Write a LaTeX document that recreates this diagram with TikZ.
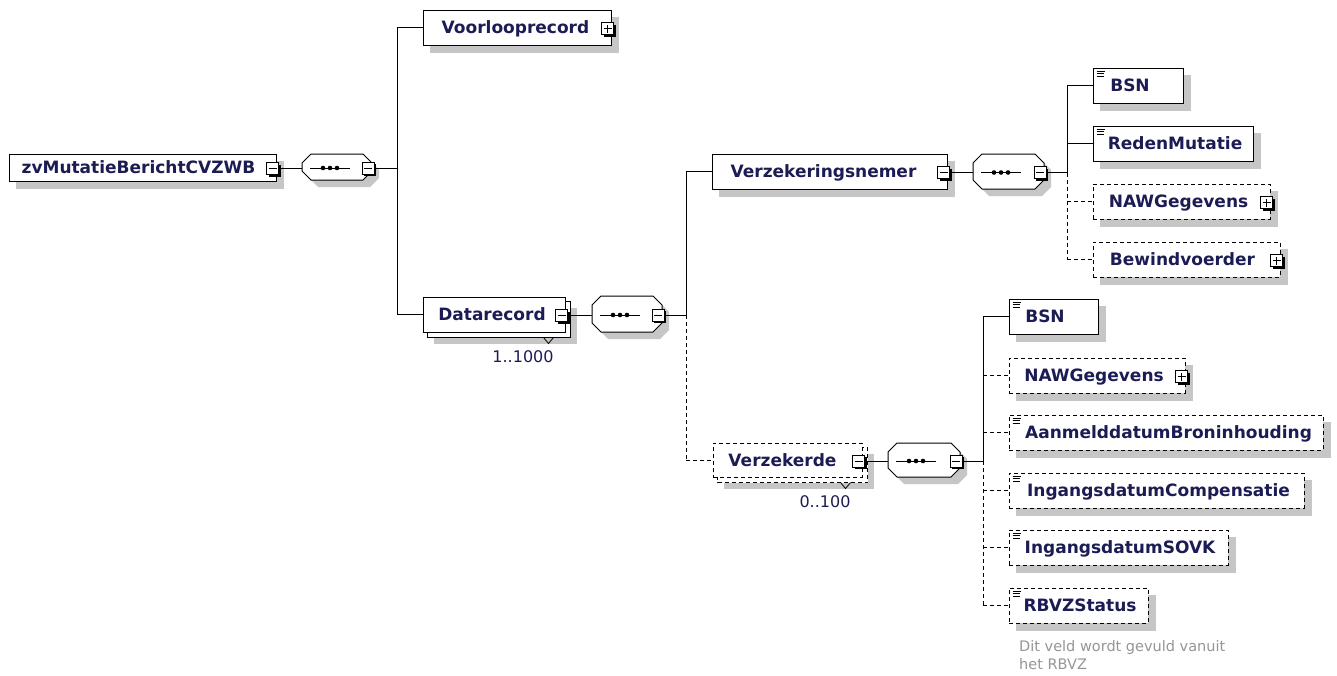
\documentclass[tikz,border=0pt]{standalone}
\usepackage{fontspec}
\setmainfont{DejaVu Sans}
\usetikzlibrary{calc}
\definecolor{navy}{RGB}{28,28,84}
\definecolor{shgray}{RGB}{198,198,198}
\definecolor{annogray}{RGB}{150,150,150}
\pgfdeclarelayer{paper}
\pgfdeclarelayer{shad}
\pgfdeclarelayer{back}
\pgfsetlayers{paper,shad,back,main}
\tikzset{
  conn/.style={line width=1pt},
  opt/.style={dash pattern=on 4pt off 3pt},
  ebox/.style={draw, fill=white, line width=1pt, inner sep=0pt},
  etxt/.style={font=\bfseries\fontsize{17}{19}\selectfont, text=navy, inner sep=0pt, text height=12.4pt, text depth=0pt},
  occ/.style={font=\fontsize{16}{18}\selectfont, text=navy, inner sep=0pt},
  anno/.style={font=\fontsize{14.5}{18}\selectfont, text=annogray, inner sep=0pt, anchor=base west},
  pmsq/.style={draw, fill=white, line width=1pt, minimum size=12pt, inner sep=0pt},
}
% #1 name, #2 x1, #3 y1, #4 x2, #5 y2, #6 text, #7 text centre x, #8 style, #9 shadow offset
\newcommand\mkelem[9]{%
  \node[ebox,#8, minimum width={#4-#2}, minimum height={#5-#3}] (#1) at ({(#2+#4)/2},{(#3+#5)/2}) {};
  \begin{pgfonlayer}{shad}
    \fill[shgray] ([shift={(#9,#9)}]#1.north west) rectangle ([shift={(#9,#9)}]#1.south east);
  \end{pgfonlayer}
  \node[etxt] (#1-t) at (#7,{(#3+#5)/2}) {#6};
}
\newcommand\mkstack[2]{%
  \begin{pgfonlayer}{back}
    \draw[fill=white, line width=1pt,#2] ([shift={(5,5)}]#1.north west) rectangle ([shift={(5,5)}]#1.south east);
  \end{pgfonlayer}
  \draw[line width=0.8pt] ([shift={(-22,5)}]#1.south east) -- ++(5,6) -- ++(5,-6);
}
\newcommand\mkicon[1]{%
  \draw[line width=0.9pt] ([shift={(4,3.5)}]#1.north west) -- ++(8,0)
    ([shift={(4,6)}]#1.north west) -- ++(7,0)
    ([shift={(4,8.5)}]#1.north west) -- ++(7,0);
}
% #1 node, #2 p or m
\newcommand\mkpm[2]{%
  \coordinate (#1-pmc) at ([shift={(-4,1)}]#1.east);
  \fill[black] ([shift={(-4,-4)}]#1-pmc) rectangle ([shift={(8,8)}]#1-pmc);
  \node[pmsq] (#1-pm) at (#1-pmc) {};
  \draw[line width=1pt] ([xshift=-4]#1-pm.center) -- ([xshift=4]#1-pm.center);
  \if#2p\draw[line width=1pt] ([yshift=-4]#1-pm.center) -- ([yshift=4]#1-pm.center);\fi
}
% #1 name, #2 x1, #3 y1, #4 x2, #5 y2
\newcommand\mkseq[5]{%
  \node[inner sep=0pt, minimum width={#4-#2}, minimum height={#5-#3}] (#1) at ({(#2+#4)/2},{(#3+#5)/2}) {};
  \begin{pgfonlayer}{shad}
    \fill[shgray] ({#2+9+7},{#3+7}) -- ({#4-9+7},{#3+7}) -- ({#4+7},{#3+9+7}) -- ({#4+7},{#5-9+7}) -- ({#4-9+7},{#5+7}) -- ({#2+9+7},{#5+7}) -- ({#2+7},{#5-9+7}) -- ({#2+7},{#3+9+7}) -- cycle;
  \end{pgfonlayer}
  \draw[fill=white, line width=1pt] ({#2+9},#3) -- ({#4-9},#3) -- (#4,{#3+9}) -- (#4,{#5-9}) -- ({#4-9},#5) -- ({#2+9},#5) -- (#2,{#5-9}) -- (#2,{#3+9}) -- cycle;
  \draw[line width=1pt] ({#2+8},{(#3+#5)/2+1}) -- ({#2+48},{(#3+#5)/2+1});
  \foreach \dx in {21,28,35} \fill ({#2+\dx},{(#3+#5)/2+1}) circle (2.3);
  \mkpm{#1}{m}
}
\begin{document}
\begin{tikzpicture}[x=1pt,y=-1pt]
\begin{pgfonlayer}{paper}
\fill[white] (0,0) rectangle (1337,675);
\end{pgfonlayer}
\useasboundingbox (0,0) rectangle (1337,675);

% elements
\mkelem{zv}{9}{154}{276}{181}{zvMutatieBerichtCVZWB}{138.5}{}{7}
\mkelem{vr}{423}{10}{611}{45}{Voorlooprecord}{515.5}{}{7}
\mkelem{dr}{423}{297}{565}{332}{Datarecord}{492}{}{11}
\mkstack{dr}{}
\mkelem{vn}{712}{154}{947}{189}{Verzekeringsnemer}{823.5}{}{7}
\mkelem{vz}{713}{443}{862}{477}{Verzekerde}{782.5}{opt}{11}
\mkstack{vz}{opt}
\mkelem{bsnA}{1093}{68}{1183}{103}{BSN}{1130}{}{7}
\mkelem{rm}{1093}{126}{1253}{161}{RedenMutatie}{1175}{}{7}
\mkelem{nawA}{1093}{184}{1270}{219}{NAWGegevens}{1178.5}{opt}{7}
\mkelem{bw}{1093}{242}{1280}{277}{Bewindvoerder}{1182.5}{opt}{7}
\mkelem{bsnB}{1009}{299}{1098}{334}{BSN}{1045}{}{7}
\mkelem{nawB}{1009}{358}{1185}{393}{NAWGegevens}{1094}{opt}{7}
\mkelem{ad}{1009}{415}{1323}{450}{AanmelddatumBroninhouding}{1168.5}{opt}{7}
\mkelem{ic}{1009}{473}{1304}{508}{IngangsdatumCompensatie}{1158.5}{opt}{7}
\mkelem{is}{1009}{530}{1228}{565}{IngangsdatumSOVK}{1120}{opt}{7}
\mkelem{rb}{1009}{588}{1148}{623}{RBVZStatus}{1080}{opt}{7}

\foreach \n in {bsnA,rm,bsnB,ad,ic,is,rb} {\mkicon{\n}}

\mkpm{zv}{m}
\mkpm{vr}{p}
\mkpm{dr}{m}
\mkpm{vn}{m}
\mkpm{vz}{m}
\mkpm{nawA}{p}
\mkpm{bw}{p}
\mkpm{nawB}{p}

% sequences
\mkseq{s1}{302}{154}{372}{180}
\mkseq{s2}{592}{296}{662}{332}
\mkseq{s3}{973}{154}{1044}{189}
\mkseq{s4}{888}{443}{960}{477}

% occurrence labels
\node[occ] (dr-occ) at (523,357) {1..1000};
\node[occ] (vz-occ) at (825,502) {0..100};

% annotation
\node[anno] (note1) at (1019,651) {Dit veld wordt gevuld vanuit};
\node[anno] (note2) at (1019,669) {het RBVZ};

% bars
\coordinate (b1) at (397,0);
\coordinate (b2) at (686,0);
\coordinate (b3) at (1067,0);
\coordinate (b4) at (983,0);

% connectors level 1
\draw[conn] (zv-pm.east) -- (zv-pm.east -| s1.west);
\draw[conn] (s1-pm.east) -- (s1-pm.east -| b1);
\draw[conn] (b1 |- vr.west) -- (b1 |- dr.west);
\draw[conn] (b1 |- vr.west) -- (vr.west);
\draw[conn] (b1 |- dr.west) -- (dr.west);

% level 2
\draw[conn] (dr-pm.east) -- (dr-pm.east -| s2.west);
\draw[conn] (s2-pm.east) -- (s2-pm.east -| b2);
\draw[conn] (b2 |- vn.west) -- (b2 |- s2-pm.east);
\draw[conn,opt] (b2 |- s2-pm.east) -- (b2 |- vz.west);
\draw[conn] (b2 |- vn.west) -- (vn.west);
\draw[conn,opt] (b2 |- vz.west) -- (vz.west);

% level 3 (Verzekeringsnemer)
\draw[conn] (vn-pm.east) -- (vn-pm.east -| s3.west);
\draw[conn] (s3-pm.east) -- (s3-pm.east -| b3);
\draw[conn] (b3 |- bsnA.west) -- (b3 |- s3-pm.east);
\draw[conn,opt] (b3 |- s3-pm.east) -- (b3 |- bw.west);
\draw[conn] (b3 |- bsnA.west) -- (bsnA.west);
\draw[conn] (b3 |- rm.west) -- (rm.west);
\draw[conn,opt] (b3 |- nawA.west) -- (nawA.west);
\draw[conn,opt] (b3 |- bw.west) -- (bw.west);

% level 3 (Verzekerde)
\draw[conn] (vz-pm.east) -- (vz-pm.east -| s4.west);
\draw[conn] (s4-pm.east) -- (s4-pm.east -| b4);
\draw[conn] (b4 |- bsnB.west) -- (b4 |- s4-pm.east);
\draw[conn,opt] (b4 |- s4-pm.east) -- (b4 |- rb.west);
\draw[conn] (b4 |- bsnB.west) -- (bsnB.west);
\draw[conn,opt] (b4 |- nawB.west) -- (nawB.west);
\draw[conn,opt] (b4 |- ad.west) -- (ad.west);
\draw[conn,opt] (b4 |- ic.west) -- (ic.west);
\draw[conn,opt] (b4 |- is.west) -- (is.west);
\draw[conn,opt] (b4 |- rb.west) -- (rb.west);
\end{tikzpicture}
\end{document}
